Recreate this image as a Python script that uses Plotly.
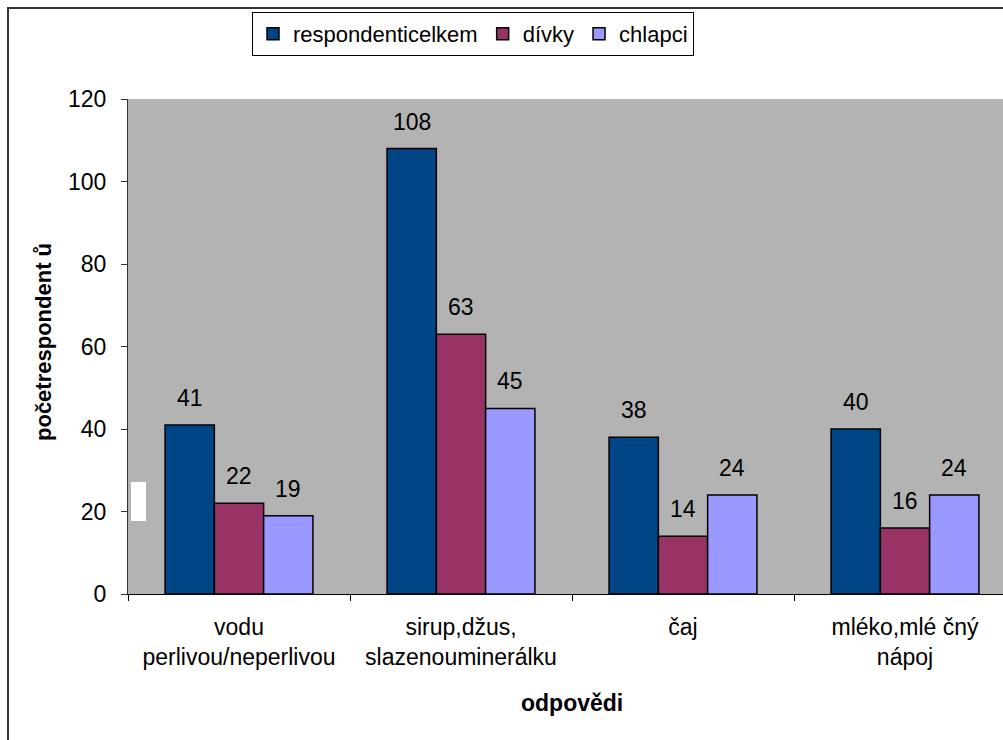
import plotly.graph_objects as go

# ---- data ----
categories = ["vodu<br>perlivou/neperlivou", "sirup,džus,<br>slazenouminerálku", "čaj", "mléko,mlé čný<br>nápoj"]
series_names = ["respondenticelkem", "dívky", "chlapci"]
celkem = [41, 108, 38, 40]
divky = [22, 63, 14, 16]
chlapci = [19, 45, 24, 24]
y_ticks = [0, 20, 40, 60, 80, 100, 120]
x_title = "odpovědi"
y_title = "početrespondent ů"

# ---- layout constants (pixels) ----
W, H = 1003, 740
L, T, B = 128, 99, 146
plot_w = W - L
plot_h = H - T - B
cat_px = 222.0
bargap = 0.334
colors = ["#004586", "#993366", "#9999FF"]
FONT = "Liberation Sans, Arial, sans-serif"
FS = 23

def px_x(p):
    return (p - L) / plot_w

def px_y(p):
    return (H - B - p) / plot_h

fig = go.Figure()
all_series = [celkem, divky, chlapci]
for name, vals, col in zip(series_names, all_series, colors):
    fig.add_trace(go.Bar(
        name=name, x=categories, y=vals,
        marker=dict(color=col, line=dict(color="black", width=1.5)),
    ))

# data labels above bars
bar_px = cat_px * (1 - bargap) / 3
for i, vals in enumerate(all_series):
    for c, v in zip(categories, vals):
        fig.add_annotation(
            x=c, y=v, text=str(v), showarrow=False,
            xshift=(i - 1) * bar_px, yshift=27, yanchor="middle",
            font=dict(family=FONT, size=FS, color="black"),
        )

x_end = 3.5 - (L + 4 * cat_px - W) / cat_px

fig.update_layout(
    width=W, height=H,
    margin=dict(l=L, r=0, t=T, b=B, pad=0),
    paper_bgcolor="white", plot_bgcolor="#B3B3B3",
    barmode="group", bargap=bargap, bargroupgap=0,
    font=dict(family=FONT, size=FS, color="black"),
    showlegend=True,
    legend=dict(
        orientation="h", x=px_x(252), y=px_y(12), xanchor="left", yanchor="top",
        bgcolor="white", bordercolor="black", borderwidth=1,
        font=dict(family=FONT, size=22, color="black"),
        itemwidth=30, tracegroupgap=0,
    ),
    xaxis=dict(
        range=[-0.5, x_end], showgrid=False, zeroline=False,
        showline=True, linecolor="black", linewidth=1,
        ticks="outside", tickson="boundaries", ticklen=6, tickcolor="black",
        tickfont=dict(family=FONT, size=FS, color="black"),
        ticklabelstandoff=12,
    ),
    yaxis=dict(
        range=[0, 120], tickvals=y_ticks, showgrid=False, zeroline=False,
        showline=True, linecolor="#333333", linewidth=1,
        ticks="outside", ticklen=6, tickcolor="#333333",
        tickfont=dict(family=FONT, size=FS, color="black"),
        ticklabelstandoff=10,
    ),
)

# axis titles as annotations
fig.add_annotation(
    xref="paper", yref="paper", x=px_x(572), y=px_y(703), text="<b>" + x_title + "</b>",
    showarrow=False, xanchor="center", yanchor="middle",
    font=dict(family=FONT, size=FS, color="black"),
)
fig.add_annotation(
    xref="paper", yref="paper", x=px_x(43), y=px_y(342), text="<b>" + y_title + "</b>",
    showarrow=False, textangle=-90, xanchor="center", yanchor="middle",
    font=dict(family=FONT, size=22, color="black"),
)

# outer chart border (top and left visible)
fig.add_shape(type="line", xref="paper", yref="paper",
              x0=px_x(7), x1=px_x(W + 5), y0=px_y(8), y1=px_y(8),
              line=dict(color="#333333", width=2))
fig.add_shape(type="line", xref="paper", yref="paper",
              x0=px_x(8), x1=px_x(8), y0=px_y(7), y1=px_y(H + 5),
              line=dict(color="#333333", width=2))
# small white patch on plot area
fig.add_shape(type="rect", xref="paper", yref="paper",
              x0=px_x(131), x1=px_x(146), y0=px_y(521), y1=px_y(482),
              fillcolor="white", line=dict(width=0), layer="above")

fig.write_html("out.html")
